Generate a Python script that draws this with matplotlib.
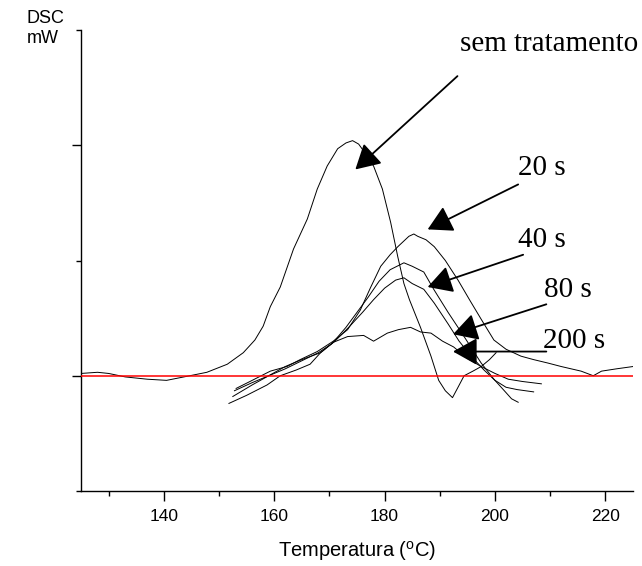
import matplotlib
matplotlib.use('Agg')
import matplotlib.pyplot as plt
from matplotlib.ticker import FixedLocator

#----------------------------------------------------------------------
# DATA (temperature in C, DSC signal in mW, baseline = 0)
sem_T = [125, 128, 130, 133, 137, 140.5, 144.7, 147.8, 151.5, 154.4, 156.5, 158, 159.3,
         161.1, 163.5, 166, 167.8, 169.6, 171.5, 173, 174.2, 175.3, 176.2, 178, 179.6,
         181.1, 182.4, 183.5, 184.5, 186.5, 188.4, 189.8, 191, 192.3, 193.3, 194.4,
         196, 197.5, 199, 200.2]
sem_v = [0.02, 0.03, 0.02, -0.01, -0.03, -0.04, 0.0, 0.03, 0.10, 0.20, 0.31, 0.43, 0.60,
         0.77, 1.10, 1.36, 1.62, 1.82, 1.97, 2.02, 2.04, 2.01, 1.95, 1.82, 1.62,
         1.33, 1.03, 0.80, 0.66, 0.42, 0.17, -0.04, -0.13, -0.19, -0.10, 0.0,
         0.04, 0.08, 0.14, 0.20]

s20_T = [153.1, 155.6, 159.3, 162.3, 164.7, 167.8, 170.7, 173.3, 175.6, 177.5, 179.3,
         181, 182.4, 184.4, 185.3, 186, 187.5, 189, 191, 193.3, 195.5, 197.5, 199.8,
         202, 204.7, 207, 209.6, 212, 215.6, 217.8, 219.3, 222, 225]
s20_v = [-0.11, -0.05, 0.04, 0.08, 0.14, 0.21, 0.30, 0.40, 0.57, 0.77, 0.95,
         1.05, 1.12, 1.21, 1.23, 1.21, 1.18, 1.12, 1.00, 0.83, 0.65, 0.49, 0.31,
         0.23, 0.17, 0.14, 0.11, 0.08, 0.04, 0.0, 0.04, 0.06, 0.08]

s40_T = [152.8, 156, 159, 162, 165, 168, 170.5, 173, 175, 177, 179, 181, 183.5, 185,
         187.1, 188.9, 191.5, 194.4, 197.5, 199.8, 201.5, 203, 204.2]
s40_v = [-0.13, -0.06, 0.0, 0.06, 0.13, 0.20, 0.28, 0.42, 0.55, 0.68, 0.82, 0.92, 0.98, 0.95,
         0.90, 0.75, 0.55, 0.34, 0.11, -0.03, -0.12, -0.20, -0.23]

s80_T = [151.8, 155, 158.7, 161.1, 164, 166.5, 168.4, 171, 173.5, 176, 178, 180, 182,
         183.5, 185, 187.1, 189, 191.5, 193.5, 195.5, 198, 200, 202, 204, 207]
s80_v = [-0.24, -0.17, -0.08, 0.0, 0.05, 0.10, 0.20, 0.30, 0.42, 0.55, 0.66, 0.76, 0.83,
         0.85, 0.80, 0.75, 0.63, 0.45, 0.30, 0.18, 0.05, -0.04, -0.10, -0.12, -0.14]

s200_T = [152.5, 156, 159, 162, 165, 168.4, 170.7, 173.3, 176.2, 178, 180.5, 182.5, 184.7,
          186.5, 188.4, 190.5, 192.5, 195, 197.5, 200, 202.4, 205, 208.4]
s200_v = [-0.18, -0.08, 0.0, 0.08, 0.14, 0.20, 0.29, 0.34, 0.35, 0.30, 0.37, 0.40, 0.42,
          0.38, 0.37, 0.30, 0.25, 0.15, 0.08, 0.02, -0.03, -0.05, -0.07]

series = [(sem_T, sem_v), (s20_T, s20_v), (s40_T, s40_v), (s80_T, s80_v), (s200_T, s200_v)]

# labels: text, text position (left, baseline), arrow start, arrow tip
labels = ['sem tratamento', '20 s', '40 s', '80 s', '200 s']
label_xy = [(193.6, 2.82), (204.2, 1.74), (204.2, 1.12), (208.9, 0.68), (208.7, 0.24)]
arrow_from = [(193.2, 2.60), (204.2, 1.66), (205.1, 1.05), (209.3, 0.62), (209.3, 0.21)]
arrow_to = [(174.7, 1.79), (187.8, 1.27), (187.8, 0.77), (192.4, 0.36), (192.4, 0.21)]

x_major = [140, 160, 180, 200, 220]

#----------------------------------------------------------------------
# FIGURE
fig = plt.figure(figsize=(6.42, 5.66), dpi=100)
ax = fig.add_axes([81/642, 1 - 491/566, (633 - 81)/642, (491 - 30)/566])

for T, v in series:
    ax.plot(T, v, color='black', lw=0.7)

ax.axhline(0, color='red', lw=1.1, zorder=3)

for txt, pos, a0, a1 in zip(labels, label_xy, arrow_from, arrow_to):
    ax.text(pos[0], pos[1], txt, family='Liberation Serif', fontsize=21,
            ha='left', va='baseline')
    ax.annotate('', xy=a1, xytext=a0,
                arrowprops=dict(arrowstyle='-|>,head_length=0.75,head_width=0.42',
                                mutation_scale=20, color='black', lw=1.3,
                                shrinkA=0, shrinkB=0))

ax.set_xlim(125, 225)
ax.set_ylim(-1, 3)
ax.spines['top'].set_visible(False)
ax.spines['right'].set_visible(False)
for s in ['left', 'bottom']:
    ax.spines[s].set_linewidth(1.0)

ax.xaxis.set_major_locator(FixedLocator(x_major))
ax.xaxis.set_minor_locator(FixedLocator([130, 150, 170, 190, 210]))
ax.yaxis.set_major_locator(FixedLocator([0, 2]))
ax.yaxis.set_minor_locator(FixedLocator([-1, 1, 3]))
ax.set_yticklabels([])
ax.tick_params(axis='x', which='major', length=7, width=1.0, labelsize=12.5, pad=6)
ax.tick_params(axis='x', which='minor', length=3.5, width=1.0)
ax.tick_params(axis='y', which='major', length=6.5, width=1.0)
ax.tick_params(axis='y', which='minor', length=3.5, width=1.0)
for lab in ax.get_xticklabels():
    lab.set_family('Liberation Sans')

ax.set_xlabel(r'Temperatura ($\mathregular{^o}$C)', family='Liberation Sans',
              fontsize=14.5, labelpad=11)
fig.text(27/642, 1 - 10/566, 'DSC\nmW', family='Liberation Sans', fontsize=13,
         ha='left', va='top', linespacing=1.25)

fig.savefig('out.png', dpi=100)
